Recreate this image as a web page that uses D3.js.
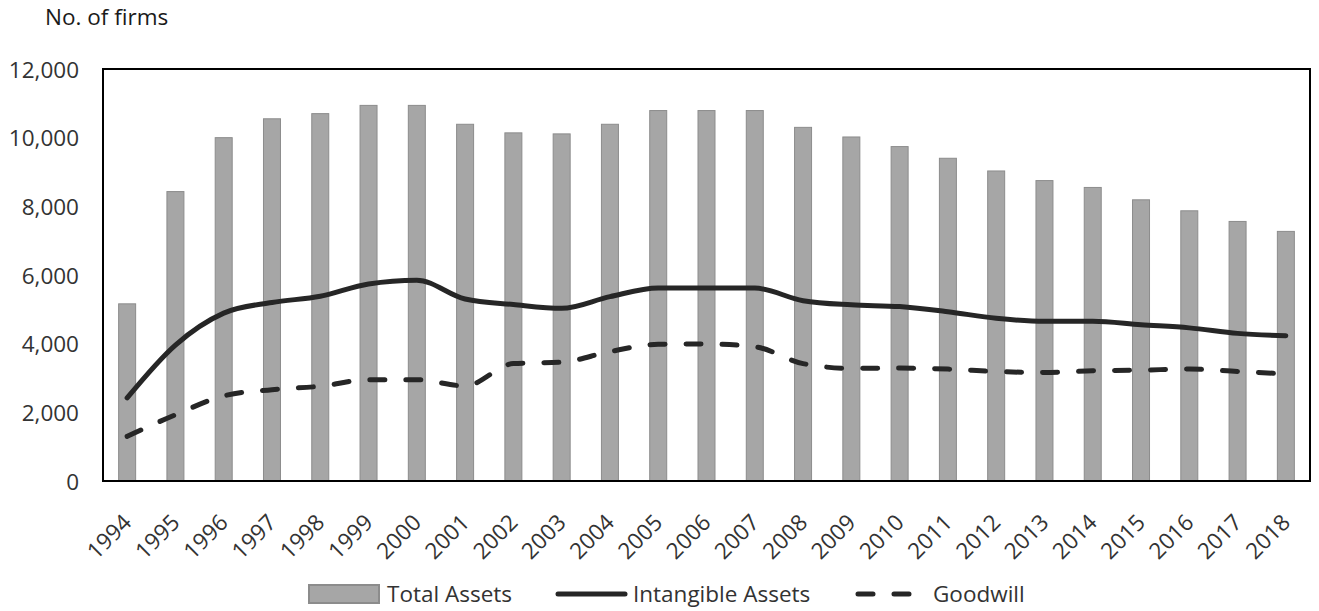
<!DOCTYPE html>
<html>
<head>
    <meta charset="utf-8">
    <title>No. of firms</title>
    <style type="text/css">
        body {
            margin: 0;
            background: #ffffff;
        }

        text {
            font-family: "Open Sans", sans-serif;
            font-size: 22.5px;
            fill: #333333;
        }

        .bar {
            fill: #a6a6a6;
            stroke: #8c8c8c;
            stroke-width: 1px;
        }

        .series-line {
            fill: none;
            stroke: #262626;
            stroke-width: 5px;
            stroke-linejoin: round;
            stroke-linecap: round;
        }

        .dashed {
            stroke-dasharray: 15, 21;
        }
    </style>
</head>
<body>
    <div id="chart"></div>
    <script src="https://d3js.org/d3.v7.min.js"></script>
    <script>

      var years = [1994, 1995, 1996, 1997, 1998, 1999, 2000, 2001, 2002, 2003, 2004, 2005,
                   2006, 2007, 2008, 2009, 2010, 2011, 2012, 2013, 2014, 2015, 2016, 2017, 2018];

      var totalAssets = [5160, 8430, 10000, 10550, 10700, 10940, 10940, 10390, 10140, 10110, 10390, 10790,
                         10790, 10790, 10300, 10020, 9740, 9400, 9030, 8750, 8550, 8190, 7870, 7560, 7270];

      var intangibleAssets = [2420, 3960, 4890, 5200, 5380, 5740, 5850, 5300, 5140, 5030, 5370, 5620,
                              5620, 5620, 5250, 5130, 5080, 4930, 4740, 4650, 4650, 4550, 4460, 4300, 4230];

      var goodwill = [1300, 1930, 2480, 2660, 2760, 2950, 2950, 2770, 3420, 3460, 3770, 3980,
                      3990, 3910, 3420, 3280, 3290, 3260, 3190, 3160, 3210, 3230, 3260, 3190, 3120];

      var yTicks = [0, 2000, 4000, 6000, 8000, 10000, 12000];

      var width = 1319,
          height = 611,
          plot = { left: 103, right: 1310, top: 69, bottom: 481 };

      var svg = d3.select("#chart")
                  .append("svg")
                  .attr("width", width)
                  .attr("height", height);

      //  Scales: one band per year, bars are narrow and centred in their band
      var x = d3.scaleBand()
                .domain(years)
                .range([plot.left, plot.right])
                .paddingInner(0.648)
                .paddingOuter(0.324);

      var y = d3.scaleLinear()
                .domain([0, 12000])
                .range([plot.bottom, plot.top]);

      //  Axis title
      svg.append("text")
         .attr("x", 45)
         .attr("y", 25)
         .style("fill", "#1a1a1a")
         .text("No. of firms");

      //  Bars for total assets
      svg.append("g")
         .selectAll("rect")
         .data(years)
         .enter().append("rect")
                 .attr("class", "bar")
                 .attr("x", (d) => x(d))
                 .attr("width", x.bandwidth())
                 .attr("y", (d, i) => y(totalAssets[i]))
                 .attr("height", (d, i) => y(0) - y(totalAssets[i]));

      //  Smoothed lines
      var line = d3.line()
                   .x((d, i) => x(years[i]) + x.bandwidth() / 2)
                   .y((d) => y(d))
                   .curve(d3.curveMonotoneX);

      svg.append("path")
         .attr("class", "series-line")
         .attr("d", line(intangibleAssets));

      svg.append("path")
         .attr("class", "series-line dashed")
         .attr("d", line(goodwill));

      //  Y axis labels only
      var yAxis = svg.append("g")
                     .attr("transform", "translate(" + plot.left + ",0)")
                     .call(d3.axisLeft(y).tickValues(yTicks).tickFormat(d3.format(",")).tickSize(0).tickPadding(24));
      yAxis.select(".domain").remove();
      yAxis.selectAll("text")
           .attr("font-family", null)
           .attr("font-size", null)
           .attr("dy", "0.36em");

      //  X axis labels, rotated
      var xAxis = svg.append("g")
                     .attr("transform", "translate(0," + plot.bottom + ")")
                     .call(d3.axisBottom(x).tickSize(0));
      xAxis.select(".domain").remove();
      xAxis.selectAll("text")
           .attr("y", 0)
           .attr("dy", 0)
           .attr("text-anchor", "end")
           .attr("transform", "translate(5.7,43) rotate(-45)");

      //  Plot frame
      svg.append("rect")
         .attr("x", plot.left)
         .attr("y", plot.top)
         .attr("width", plot.right - plot.left)
         .attr("height", plot.bottom - plot.top)
         .attr("fill", "none")
         .attr("stroke", "#000")
         .attr("stroke-width", 2);

      //  Legend
      var legend = svg.append("g").attr("class", "legend");

      legend.append("rect")
            .attr("class", "bar")
            .attr("x", 309).attr("y", 585)
            .attr("width", 70).attr("height", 18)
            .style("stroke-width", "2px");
      legend.append("text").attr("x", 387).attr("y", 602).text("Total Assets");

      legend.append("line")
            .attr("class", "series-line")
            .attr("x1", 558).attr("x2", 625)
            .attr("y1", 594).attr("y2", 594);
      legend.append("text").attr("x", 633).attr("y", 602).text("Intangible Assets");

      legend.append("line")
            .attr("class", "series-line dashed")
            .attr("x1", 858).attr("x2", 927)
            .attr("y1", 594).attr("y2", 594);
      legend.append("text").attr("x", 933).attr("y", 602).text("Goodwill");

    </script>
</body>
</html>
